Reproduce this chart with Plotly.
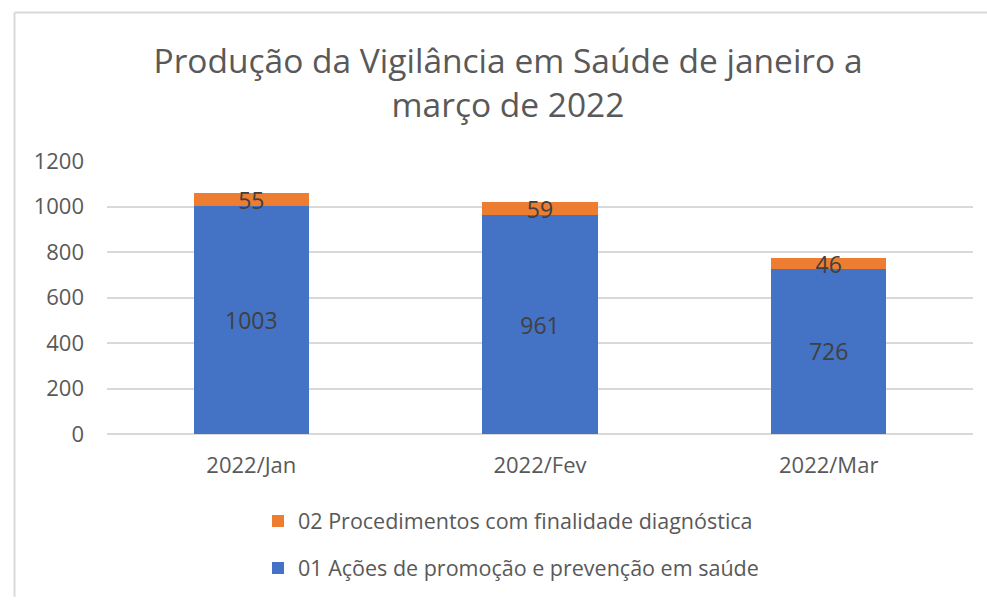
import plotly.graph_objects as go

categories = ["2022/Jan", "2022/Fev", "2022/Mar"]
acoes = [1003, 961, 726]
procedimentos = [55, 59, 46]
series_names = ["01 Ações de promoção e prevenção em saúde",
                "02 Procedimentos com finalidade diagnóstica"]
y_ticks = [0, 200, 400, 600, 800, 1000, 1200]
title_text = "Produção da Vigilância em Saúde de janeiro a<br>março de 2022"

FONT = "Open Sans"
W, H = 987, 600
L, R, T, B = 107, 14, 161, 164
pw, ph = W - L - R, H - T - B

fig = go.Figure()
fig.add_trace(go.Bar(
    x=categories, y=acoes, name=series_names[0],
    marker=dict(color="#4472C4", line=dict(width=0)),
    text=acoes, textposition="inside", insidetextanchor="middle",
    textangle=0, constraintext="none",
    textfont=dict(family=FONT, size=23, color="#404040"),
    legendgroup="a", legendrank=2, hoverinfo="skip",
))
fig.add_trace(go.Bar(
    x=categories, y=procedimentos, name=series_names[1],
    marker=dict(color="#ED7D31", line=dict(width=0)),
    text=procedimentos, textposition="inside", insidetextanchor="middle",
    textangle=0, constraintext="none", cliponaxis=False,
    textfont=dict(family=FONT, size=23, color="#404040"),
    legendgroup="b", legendrank=1, hoverinfo="skip",
))

def px_x(p):
    return (p - L) / pw

def px_y(p):
    return (H - B - p) / ph

fig.update_layout(
    width=W, height=H,
    barmode="stack", bargap=0.6,
    paper_bgcolor="white", plot_bgcolor="white",
    margin=dict(l=L, r=R, t=T, b=B),
    font=dict(family=FONT, color="#595959"),
    title=dict(text=title_text, x=px_x(508), xref="paper", xanchor="center",
               y=1 - 73 / H, yanchor="middle",
               font=dict(family=FONT, size=33.5, color="#595959")),
    xaxis=dict(showgrid=False, showline=False, ticks="",
               tickfont=dict(family=FONT, size=22, color="#595959"),
               ticklabelstandoff=16),
    yaxis=dict(range=[0, 1200], tickvals=y_ticks, showgrid=True,
               gridcolor="#D9D9D9", gridwidth=1.5,
               zeroline=True, zerolinecolor="#D9D9D9", zerolinewidth=1.5,
               showline=False, ticks="",
               tickfont=dict(family=FONT, size=22, color="#595959"),
               ticklabelstandoff=22),
    showlegend=True,
    legend=dict(orientation="v", traceorder="grouped",
                tracegroupgap=16,
                x=px_x(258), xanchor="left", y=px_y(503), yanchor="top",
                font=dict(family=FONT, size=21.5, color="#595959"),
                itemwidth=30, bgcolor="rgba(0,0,0,0)"),
    shapes=[
        dict(type="line", xref="paper", yref="paper",
             x0=px_x(14.5), x1=px_x(987), y0=px_y(11.5), y1=px_y(11.5),
             line=dict(color="#D9D9D9", width=2)),
        dict(type="line", xref="paper", yref="paper",
             x0=px_x(14.5), x1=px_x(14.5), y0=px_y(11.5), y1=px_y(600),
             line=dict(color="#D9D9D9", width=2)),
    ],
)

fig.write_html("out.html")
